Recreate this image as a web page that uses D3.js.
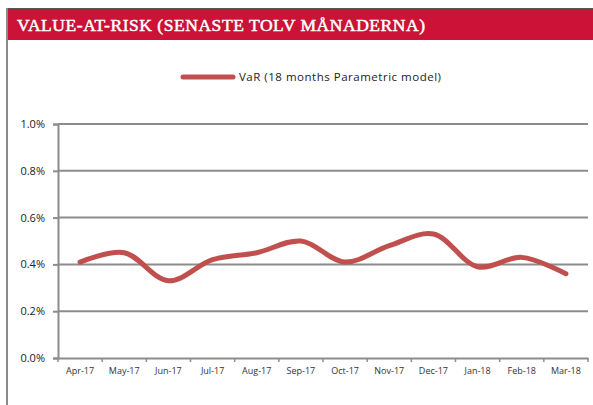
<!DOCTYPE html>
<html>
<head>
<meta charset="utf-8">
<script src="https://cdn.jsdelivr.net/npm/d3@7"></script>
<style>
  body { margin: 0; background: #fff; }
  svg text { font-family: "Open Sans", "Liberation Sans", sans-serif; }
</style>
</head>
<body>
<div id="chart"></div>
<script>
// Months and VaR values
const months = ["Apr-17", "May-17", "Jun-17", "Jul-17", "Aug-17", "Sep-17",
                "Oct-17", "Nov-17", "Dec-17", "Jan-18", "Feb-18", "Mar-18"];
const varValues = [0.0041, 0.0045, 0.0033, 0.0042, 0.0045, 0.0050,
                   0.0041, 0.0048, 0.0053, 0.0039, 0.0043, 0.0036];
const yTicks = [0, 0.002, 0.004, 0.006, 0.008, 0.010];
const title = "VALUE-AT-RISK (SENASTE TOLV MÅNADERNA)";
const seriesName = "VaR (18 months Parametric model)";

const width = 593, height = 405;
const margin = { top: 124, right: 5, bottom: 47, left: 58 };
const lineColor = "#c0504d";

const svg = d3.select("#chart").append("svg")
    .attr("width", width)
    .attr("height", height);

// frame + title bar
svg.append("rect")
    .attr("x", 7).attr("y", 9).attr("width", width - 7).attr("height", 31)
    .attr("fill", "#cc1236");
svg.append("line")
    .attr("x1", 7).attr("x2", width).attr("y1", 8.5).attr("y2", 8.5)
    .attr("stroke", "#555").attr("stroke-width", 1);
svg.append("line")
    .attr("x1", 7).attr("x2", 7).attr("y1", 8).attr("y2", height)
    .attr("stroke", "#8a8a8a").attr("stroke-width", 2);
svg.append("text")
    .attr("x", 17).attr("y", 31)
    .attr("fill", "#fff")
    .style("font-family", "'Liberation Serif', 'DejaVu Serif', serif")
    .style("font-size", "17.5px")
    .style("font-weight", "normal")
    .style("stroke", "#fff").style("stroke-width", 0.5)
    .attr("textLength", 408)
    .attr("lengthAdjust", "spacing")
    .text(title);

const x = d3.scaleBand()
    .domain(months)
    .range([margin.left, width - margin.right]);

const y = d3.scaleLinear()
    .domain([0, 0.01])
    .range([height - margin.bottom, margin.top]);

// gridlines
svg.append("g")
    .selectAll("line")
    .data(yTicks.filter(d => d > 0))
    .join("line")
    .attr("x1", margin.left).attr("x2", width - margin.right)
    .attr("y1", d => y(d)).attr("y2", d => y(d))
    .attr("stroke", "#8c8c8c").attr("stroke-width", 2);

// y axis
const yAxis = svg.append("g")
    .attr("transform", `translate(${margin.left},0)`)
    .call(d3.axisLeft(y).tickValues(yTicks).tickFormat(d3.format(".1%")).tickSize(5).tickPadding(8));
yAxis.select(".domain").attr("stroke", "#8c8c8c").attr("stroke-width", 2);
yAxis.selectAll(".tick line").attr("stroke", "#8c8c8c").attr("stroke-width", 2);
yAxis.selectAll("text").style("font-size", "11px").attr("fill", "#222");

// x axis
const boundaries = months.map(m => x(m)).concat([x.range()[1]]);
const xAxis = svg.append("g")
    .attr("transform", `translate(0,${height - margin.bottom})`)
    .call(d3.axisBottom(x).tickSize(0).tickPadding(10));
xAxis.select(".domain").attr("stroke", "#8c8c8c").attr("stroke-width", 2);
xAxis.selectAll("text").style("font-size", "9px").attr("fill", "#333");
xAxis.selectAll(".boundary")
    .data(boundaries)
    .join("line")
    .attr("class", "boundary")
    .attr("x1", d => d).attr("x2", d => d)
    .attr("y1", 0).attr("y2", 4)
    .attr("stroke", "#8c8c8c").attr("stroke-width", 1.5);

// line
const line = d3.line()
    .x((d, i) => x(months[i]) + x.bandwidth() / 2)
    .y(d => y(d))
    .curve(d3.curveCatmullRom.alpha(0.5));

svg.append("path")
    .datum(varValues)
    .attr("d", line)
    .attr("fill", "none")
    .attr("stroke", lineColor)
    .attr("stroke-width", 5)
    .attr("stroke-linecap", "round")
    .attr("stroke-linejoin", "round");

// legend
svg.append("line")
    .attr("x1", 183).attr("x2", 233).attr("y1", 77).attr("y2", 77)
    .attr("stroke", lineColor).attr("stroke-width", 5)
    .attr("stroke-linecap", "round");
svg.append("text")
    .attr("x", 239).attr("y", 81)
    .style("font-size", "11.5px")
    .attr("fill", "#222")
    .attr("textLength", 202)
    .attr("lengthAdjust", "spacing")
    .text(seriesName);
</script>
</body>
</html>
